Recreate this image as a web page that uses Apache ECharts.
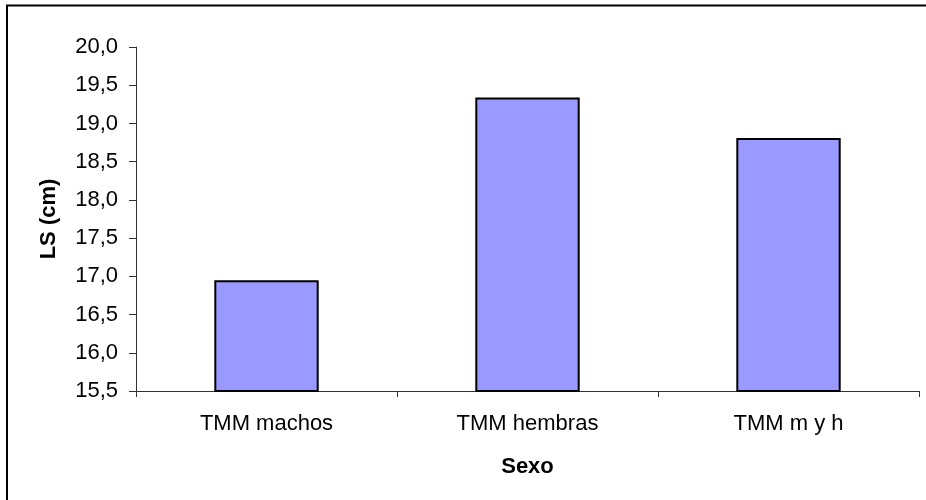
<!DOCTYPE html>
<html>
<head>
<meta charset="utf-8">
<script src="https://cdn.jsdelivr.net/npm/echarts@6/dist/echarts.min.js"></script>
<style>
html,body{margin:0;padding:0;background:#fff;}
#chart{width:926px;height:500px;}
</style>
</head>
<body>
<div id="chart"></div>
<script>
var categories = ['TMM machos', 'TMM hembras', 'TMM m y h'];
var values = [16.95, 19.34, 18.81];
var yMin = 15.5, yMax = 20.0, yStep = 0.5;
var yName = 'LS (cm)';
var xName = 'Sexo';

var FONT = '"Liberation Sans", Arial, sans-serif';
var chart = echarts.init(document.getElementById('chart'), null, {renderer: 'canvas'});
chart.setOption({
  backgroundColor: '#fff',
  animation: false,
  textStyle: {fontFamily: FONT},
  graphic: [{
    type: 'rect',
    shape: {x: 7, y: 5.5, width: 940, height: 520},
    style: {fill: 'none', stroke: '#000', lineWidth: 2},
    silent: true
  }],
  grid: {left: 136, right: 7, top: 47, bottom: 109, containLabel: false},
  xAxis: {
    type: 'category',
    data: categories,
    name: xName,
    nameLocation: 'middle',
    nameGap: 65,
    nameTextStyle: {fontFamily: FONT, fontSize: 22, fontWeight: 'bold', color: '#000'},
    axisLine: {lineStyle: {color: '#333', width: 1}},
    axisTick: {show: true, alignWithLabel: false, length: 6, lineStyle: {color: '#333'}},
    axisLabel: {fontFamily: FONT, fontSize: 22, color: '#000', margin: 22},
    splitLine: {show: false}
  },
  yAxis: {
    type: 'value',
    min: yMin,
    max: yMax,
    interval: yStep,
    name: yName,
    nameLocation: 'middle',
    nameGap: 76,
    nameRotate: 90,
    nameTextStyle: {fontFamily: FONT, fontSize: 22, fontWeight: 'bold', color: '#000'},
    axisLine: {show: true, lineStyle: {color: '#333', width: 1}},
    axisTick: {show: true, length: 7, lineStyle: {color: '#333'}},
    axisLabel: {
      fontFamily: FONT, fontSize: 22, color: '#000', margin: 18,
      formatter: function (v) { return v.toFixed(1).replace('.', ','); }
    },
    splitLine: {show: false}
  },
  series: [{
    type: 'bar',
    data: values,
    barWidth: '40%',
    itemStyle: {color: '#9999FF', borderColor: '#000', borderWidth: 2}
  }]
});
</script>
</body>
</html>
